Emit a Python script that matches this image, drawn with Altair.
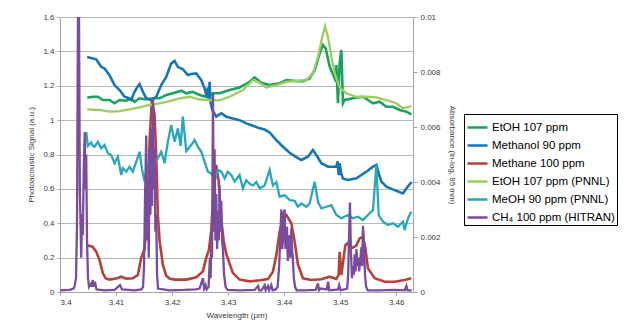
import altair as alt
import pandas as pd

series_names = ["EtOH 107 ppm", "Methanol 90 ppm", "Methane 100 ppm",
                "EtOH 107 ppm (PNNL)", "MeOH 90 ppm (PNNL)", "CH\u2084 100 ppm (HITRAN)"]
series_colors = ["#18a45c", "#1476b5", "#b5413a", "#9dcd62", "#2aa6bc", "#7a4c9e"]

x_ticks = [3.40, 3.41, 3.42, 3.43, 3.44, 3.45, 3.46]
left_ticks = [0, 0.2, 0.4, 0.6, 0.8, 1.0, 1.2, 1.4, 1.6]
right_ticks = [0, 0.002, 0.004, 0.006, 0.008, 0.01]

# (wavelength um, photoacoustic signal a.u.)
etoh_pa = [(3.40486, 1.13), (3.4058, 1.136), (3.40675, 1.136), (3.40764, 1.117), (3.40884, 1.117),
           (3.40973, 1.098), (3.41063, 1.117), (3.41182, 1.113), (3.41271, 1.127), (3.4133, 1.107),
           (3.4142, 1.127), (3.41539, 1.12), (3.41657, 1.127), (3.41777, 1.127), (3.41896, 1.146),
           (3.42014, 1.156), (3.42164, 1.171), (3.42254, 1.156), (3.42371, 1.165), (3.42491, 1.146),
           (3.42611, 1.136), (3.42729, 1.156), (3.42848, 1.156), (3.43027, 1.175), (3.43205, 1.19),
           (3.43384, 1.223), (3.43473, 1.249), (3.43593, 1.218), (3.43741, 1.204), (3.4392, 1.214),
           (3.44039, 1.233), (3.44218, 1.227), (3.44336, 1.227), (3.44455, 1.243), (3.44545, 1.291),
           (3.44634, 1.389), (3.44693, 1.437), (3.44741, 1.418), (3.44813, 1.311), (3.44902, 1.243),
           (3.44932, 1.32), (3.44961, 1.098), (3.44991, 1.33), (3.45021, 1.408), (3.4505, 1.098),
           (3.4508, 1.117), (3.45229, 1.127), (3.45407, 1.136), (3.45496, 1.117), (3.45586, 1.098),
           (3.45705, 1.107), (3.45825, 1.078), (3.45943, 1.078), (3.46063, 1.059), (3.46182, 1.049),
           (3.46271, 1.034)]

methanol_pa = [(3.40486, 1.367), (3.40646, 1.354), (3.40736, 1.31), (3.40795, 1.30), (3.40884, 1.262),
               (3.40973, 1.204), (3.41063, 1.175), (3.41152, 1.136), (3.41211, 1.13), (3.41271, 1.117),
               (3.4133, 1.165), (3.41375, 1.19), (3.4142, 1.21), (3.41479, 1.165), (3.41539, 1.127),
               (3.41629, 1.117), (3.41718, 1.136), (3.41807, 1.204), (3.41896, 1.252), (3.41986, 1.33),
               (3.42045, 1.344), (3.42104, 1.31), (3.42193, 1.296), (3.42282, 1.262), (3.42343, 1.268),
               (3.42432, 1.272), (3.42521, 1.233), (3.4258, 1.185), (3.42616, 1.14), (3.42639, 1.19),
               (3.42652, 1.12), (3.4267, 1.223), (3.42688, 1.10), (3.42718, 1.059), (3.42789, 1.02),
               (3.42879, 1.04), (3.42968, 1.02), (3.43086, 1.01), (3.43205, 1.0), (3.43325, 0.981),
               (3.43443, 0.967), (3.43563, 0.952), (3.43652, 0.945), (3.43741, 0.928), (3.43861, 0.884),
               (3.43979, 0.845), (3.44098, 0.81), (3.44218, 0.785), (3.44307, 0.768), (3.44425, 0.787),
               (3.44514, 0.826), (3.44575, 0.797), (3.44664, 0.749), (3.44782, 0.729), (3.44932, 0.729),
               (3.44955, 0.76), (3.44973, 0.68), (3.44991, 0.75), (3.45018, 0.69), (3.4505, 0.661),
               (3.45139, 0.652), (3.45289, 0.661), (3.45379, 0.681), (3.45468, 0.70), (3.45586, 0.729),
               (3.45646, 0.739), (3.45688, 0.69), (3.45736, 0.642), (3.45825, 0.613), (3.45973, 0.593),
               (3.46121, 0.574), (3.46211, 0.615), (3.46277, 0.64)]

methane_pa = [(3.40486, 0.272), (3.4058, 0.264), (3.40646, 0.235), (3.40705, 0.186), (3.40764, 0.11),
              (3.40813, 0.08), (3.40884, 0.072), (3.41004, 0.078), (3.41093, 0.089), (3.41182, 0.078),
              (3.413, 0.08), (3.41389, 0.099), (3.4145, 0.2), (3.41509, 0.25), (3.41568, 0.53),
              (3.41598, 0.87), (3.41639, 1.12), (3.41688, 1.03), (3.41718, 0.78), (3.41746, 0.45),
              (3.41777, 0.3), (3.41836, 0.157), (3.41896, 0.095), (3.41955, 0.078), (3.42045, 0.072),
              (3.42254, 0.072), (3.42432, 0.085), (3.4255, 0.12), (3.42611, 0.2), (3.42657, 0.244),
              (3.427, 0.36), (3.42741, 0.6), (3.42786, 0.74), (3.4283, 0.65), (3.42879, 0.42),
              (3.4292, 0.3), (3.42968, 0.22), (3.43086, 0.11), (3.43205, 0.072), (3.43384, 0.062),
              (3.43563, 0.068), (3.43711, 0.075), (3.438, 0.118), (3.43861, 0.215), (3.4392, 0.351),
              (3.43979, 0.429), (3.44039, 0.448), (3.44129, 0.40), (3.44188, 0.293), (3.44246, 0.16),
              (3.44336, 0.08), (3.44486, 0.07), (3.44664, 0.074), (3.44813, 0.089), (3.44932, 0.076),
              (3.44973, 0.1), (3.44991, 0.234), (3.45021, 0.099), (3.45068, 0.215), (3.45093, 0.273),
              (3.45129, 0.283), (3.452, 0.254), (3.45289, 0.27), (3.45348, 0.312), (3.45407, 0.322),
              (3.4545, 0.255), (3.45496, 0.138), (3.45616, 0.08), (3.45795, 0.06), (3.45973, 0.06),
              (3.46152, 0.07), (3.46271, 0.08)]

# (wavelength um, absorbance ln-log 95 mm)
etoh_pnnl_ab = [(3.40486, 0.006644), (3.40705, 0.006619), (3.40884, 0.006556), (3.41063, 0.006581),
                (3.41241, 0.006644), (3.4142, 0.006713), (3.41598, 0.0068), (3.41777, 0.006863),
                (3.41955, 0.006944), (3.42134, 0.007044), (3.42313, 0.0071), (3.42491, 0.007),
                (3.4267, 0.006981), (3.42848, 0.006969), (3.43027, 0.0071), (3.43264, 0.007344),
                (3.43443, 0.007706), (3.43532, 0.007644), (3.43682, 0.007438), (3.43861, 0.007525),
                (3.44039, 0.007644), (3.44218, 0.007681), (3.44396, 0.007706), (3.44514, 0.00795),
                (3.44604, 0.008556), (3.44682, 0.009281), (3.44729, 0.009669), (3.44782, 0.009281),
                (3.44843, 0.008556), (3.44902, 0.00795), (3.44991, 0.007438), (3.45111, 0.007225),
                (3.45289, 0.0071), (3.45468, 0.0071), (3.45646, 0.007081), (3.45825, 0.006981),
                (3.46004, 0.006863), (3.46121, 0.006681), (3.46205, 0.006719), (3.46271, 0.006763)]

meoh_pnnl_ab = [(3.40468, 0.005825), (3.40496, 0.005313), (3.40557, 0.005438), (3.40586, 0.005313),
                (3.40616, 0.005281), (3.40675, 0.005463), (3.40736, 0.005225), (3.40795, 0.005344),
                (3.40854, 0.005044), (3.40914, 0.004981), (3.40973, 0.004681), (3.41032, 0.004919),
                (3.41093, 0.004256), (3.41121, 0.0045), (3.41182, 0.004375), (3.41241, 0.004556),
                (3.413, 0.004375), (3.41361, 0.004738), (3.4142, 0.0051), (3.41461, 0.0045),
                (3.41509, 0.004013), (3.41568, 0.004625), (3.41629, 0.004981), (3.41688, 0.00475),
                (3.41746, 0.004863), (3.41807, 0.0051), (3.41866, 0.004681), (3.41925, 0.005463),
                (3.41986, 0.006069), (3.42045, 0.005463), (3.42104, 0.00595), (3.42152, 0.005313),
                (3.42193, 0.006375), (3.42254, 0.005125), (3.42343, 0.005344), (3.42402, 0.005525),
                (3.42461, 0.005288), (3.42521, 0.0051), (3.4258, 0.004738), (3.42639, 0.004375),
                (3.427, 0.004313), (3.42759, 0.004013), (3.42818, 0.004438), (3.42879, 0.004375),
                (3.42938, 0.004131), (3.42996, 0.004375), (3.43057, 0.004256), (3.43116, 0.004013),
                (3.43205, 0.004256), (3.43264, 0.003769), (3.43325, 0.004063), (3.43384, 0.003938),
                (3.43443, 0.003875), (3.43504, 0.004), (3.43563, 0.003769), (3.43652, 0.003875),
                (3.43741, 0.004438), (3.438, 0.003875), (3.43861, 0.004), (3.4392, 0.003463),
                (3.44009, 0.003525), (3.44098, 0.003344), (3.44188, 0.003313), (3.44246, 0.0031),
                (3.44307, 0.003219), (3.44396, 0.0031), (3.44455, 0.003219), (3.44545, 0.004013),
                (3.44604, 0.003281), (3.44664, 0.003044), (3.44754, 0.0031), (3.44843, 0.003156),
                (3.44932, 0.0028), (3.45021, 0.002681), (3.45139, 0.0028), (3.45229, 0.002681),
                (3.45318, 0.002738), (3.45407, 0.002619), (3.45496, 0.0028), (3.45586, 0.002981),
                (3.45646, 0.004619), (3.45688, 0.0028), (3.45764, 0.002556), (3.45854, 0.002438),
                (3.45943, 0.0025), (3.46032, 0.002375), (3.46121, 0.002556), (3.46152, 0.002256),
                (3.46211, 0.002681), (3.46271, 0.002919)]

ch4_hitran_ab = [(3.4, 0.0000625), (3.4017, 0.000075), (3.40241, 0.000125), (3.40259, 0.000188),
                 (3.40286, 0.0005), (3.40304, 0.0025), (3.40321, 0.0102), (3.40339, 0.0102),
                 (3.40354, 0.00375), (3.40379, 0.00125), (3.40393, 0.002813), (3.40407, 0.002063),
                 (3.40423, 0.004375), (3.40441, 0.005813), (3.40455, 0.00375), (3.40468, 0.005),
                 (3.40482, 0.001875), (3.405, 0.0005), (3.40518, 0.000188), (3.40557, 0.000313),
                 (3.40571, 0.000188), (3.40586, 0.000438), (3.40602, 0.000188), (3.40625, 0.000375),
                 (3.40652, 0.0000938), (3.40795, 0.0000625), (3.40973, 0.000075), (3.41036, 0.000188),
                 (3.41071, 0.00025), (3.41107, 0.0000938), (3.4133, 0.0000625), (3.41455, 0.0000938),
                 (3.41482, 0.000188), (3.415, 0.000938), (3.41518, 0.003438), (3.41539, 0.005688),
                 (3.41554, 0.001875), (3.41568, 0.00375), (3.41584, 0.00125), (3.41598, 0.00525),
                 (3.41613, 0.002813), (3.41629, 0.005938), (3.41643, 0.003125), (3.41661, 0.007),
                 (3.41675, 0.00375), (3.41688, 0.00525), (3.41702, 0.002188), (3.41718, 0.002813),
                 (3.41732, 0.000625), (3.4175, 0.000125), (3.41955, 0.0000625), (3.42223, 0.000075),
                 (3.4242, 0.0000938), (3.42491, 0.000125), (3.4255, 0.0005), (3.42571, 0.000125),
                 (3.42598, 0.00025), (3.42616, 0.0000938), (3.42652, 0.000188), (3.42675, 0.00125),
                 (3.42688, 0.0005), (3.42702, 0.002188), (3.42714, 0.00125), (3.4273, 0.00725),
                 (3.42745, 0.002188), (3.42759, 0.005188), (3.42773, 0.001875), (3.42789, 0.003563),
                 (3.42804, 0.001563), (3.42818, 0.002938), (3.42834, 0.001875), (3.42848, 0.003875),
                 (3.42863, 0.002188), (3.42879, 0.003313), (3.42893, 0.001875), (3.42907, 0.001563),
                 (3.42929, 0.000625), (3.42955, 0.000188), (3.42991, 0.000075), (3.43205, 0.0000625),
                 (3.43473, 0.000075), (3.43536, 0.000219), (3.43554, 0.0000625), (3.43598, 0.0000625),
                 (3.43652, 0.00025), (3.4367, 0.0000625), (3.43711, 0.000219), (3.43732, 0.0000625),
                 (3.43771, 0.00025), (3.43795, 0.0000625), (3.43848, 0.0000938), (3.43884, 0.000188),
                 (3.43911, 0.000938), (3.43929, 0.001875), (3.4395, 0.003), (3.43964, 0.001563),
                 (3.43979, 0.001875), (3.43991, 0.002875), (3.44009, 0.003), (3.44023, 0.001563),
                 (3.44036, 0.00225), (3.4405, 0.002375), (3.44066, 0.001125), (3.4408, 0.001875),
                 (3.44098, 0.002063), (3.44113, 0.00125), (3.44129, 0.002313), (3.44143, 0.0015),
                 (3.44157, 0.001188), (3.44173, 0.0005), (3.44196, 0.000188), (3.44223, 0.0000625),
                 (3.44366, 0.0000625), (3.44563, 0.000075), (3.44604, 0.000313), (3.44621, 0.0000625),
                 (3.44652, 0.000125), (3.44759, 0.0000938), (3.44786, 0.000375), (3.44804, 0.0000625),
                 (3.44902, 0.000075), (3.44964, 0.0000938), (3.44982, 0.00025), (3.45009, 0.0000625),
                 (3.45125, 0.000125), (3.45143, 0.000625), (3.45157, 0.001875), (3.45175, 0.00325),
                 (3.45191, 0.001563), (3.45211, 0.0005), (3.45229, 0.000938), (3.45245, 0.000625),
                 (3.45259, 0.001375), (3.45277, 0.00075), (3.45291, 0.001563), (3.45309, 0.000938),
                 (3.45327, 0.00125), (3.45339, 0.00075), (3.45357, 0.001125), (3.45379, 0.001625),
                 (3.45393, 0.000938), (3.45407, 0.002406), (3.45425, 0.001813), (3.45443, 0.000625),
                 (3.45464, 0.000188), (3.45491, 0.0000625), (3.45705, 0.0000625), (3.45973, 0.000075),
                 (3.46152, 0.0000625), (3.46182, 0.000219), (3.46202, 0.0000625), (3.46277, 0.0000625)]

left_rows = []
for name, pts in [(series_names[0], etoh_pa), (series_names[1], methanol_pa), (series_names[2], methane_pa)]:
    for w, v in pts:
        left_rows.append({"wl": w, "pa": v, "series": name})
right_rows = []
for name, pts in [(series_names[3], etoh_pnnl_ab), (series_names[4], meoh_pnnl_ab), (series_names[5], ch4_hitran_ab)]:
    for w, v in pts:
        right_rows.append({"wl": w, "ab": v, "series": name})
df_left = pd.DataFrame(left_rows)
df_right = pd.DataFrame(right_rows)

FONT = "Liberation Sans"
LBL = "#3a3a3a"
AX = "#a6a6a6"

x_enc = alt.X("wl:Q",
              scale=alt.Scale(domain=[3.4, 3.463], nice=False, zero=False),
              axis=alt.Axis(values=x_ticks, format=".2~f", title="Wavelength (\u03bcm)", grid=False,
                            labelFont=FONT, labelFontSize=8, labelColor=LBL, labelPadding=3,
                            tickColor=AX, tickSize=3, domainColor=AX,
                            titleFont=FONT, titleFontSize=8, titleFontWeight="normal", titleColor=LBL,
                            titlePadding=5))

color_enc = alt.Color("series:N",
                      scale=alt.Scale(domain=series_names, range=series_colors),
                      legend=alt.Legend(orient="none", legendX=404, legendY=97, title=None,
                                        strokeColor="black", padding=2, fillColor="white",
                                        symbolType="stroke", symbolStrokeWidth=2.5, symbolSize=400,
                                        labelFont=FONT, labelFontSize=11.5, labelColor="black",
                                        labelLimit=300, rowPadding=1, labelOffset=3))

left = alt.Chart(df_left).mark_line(strokeWidth=2.6, clip=True).encode(
    x=x_enc,
    y=alt.Y("pa:Q", scale=alt.Scale(domain=[0, 1.6], nice=False),
            axis=alt.Axis(values=left_ticks, format="~g", title="Photoacoustic Signal (a.u.)",
                          grid=True, gridColor="#b8b8b8", gridWidth=1,
                          labelFont=FONT, labelFontSize=8, labelColor=LBL, labelPadding=3,
                          tickColor=AX, tickSize=3, domainColor=AX,
                          titleFont=FONT, titleFontSize=8, titleFontWeight="normal", titleColor=LBL,
                          titlePadding=7)),
    color=color_enc,
)

right = alt.Chart(df_right).mark_line(strokeWidth=2.3, clip=True).encode(
    x=x_enc,
    y=alt.Y("ab:Q", scale=alt.Scale(domain=[0, 0.01], nice=False),
            axis=alt.Axis(orient="right", values=right_ticks, format="~g",
                          title="Absorbance (ln-log, 95 mm)", grid=False,
                          labelFont=FONT, labelFontSize=8, labelColor=LBL, labelPadding=3,
                          tickColor=AX, tickSize=4, domainColor=AX,
                          titleFont=FONT, titleFontSize=8, titleFontWeight="normal", titleColor=LBL,
                          titlePadding=7)),
    color=color_enc,
)

chart = alt.layer(left, right).resolve_scale(y="independent").properties(
    width=353, height=275,
    padding={"left": 60, "top": 17, "right": 218, "bottom": 36},
    autosize=alt.AutoSizeParams(type="none"),
    background="white",
).configure_view(stroke=None)

chart.save("out.html", embed_options={"renderer": "svg", "actions": False})
